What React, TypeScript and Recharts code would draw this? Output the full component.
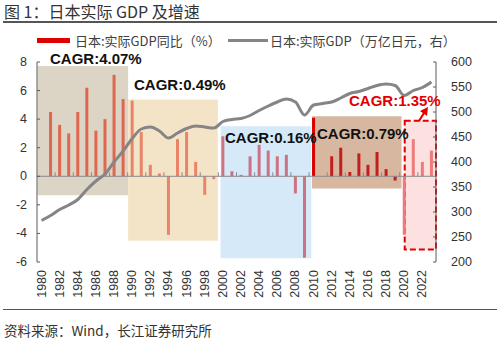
import React from "react";
import {
  ComposedChart,
  Bar,
  Line,
  XAxis,
  YAxis,
  Cell,
  ReferenceArea,
  ReferenceLine,
} from "recharts";

// ---------- data ----------
const years = [
  "1980", "1981", "1982", "1983", "1984", "1985", "1986", "1987", "1988", "1989",
  "1990", "1991", "1992", "1993", "1994", "1995", "1996", "1997", "1998", "1999",
  "2000", "2001", "2002", "2003", "2004", "2005", "2006", "2007", "2008", "2009",
  "2010", "2011", "2012", "2013", "2014", "2015", "2016", "2017", "2018", "2019",
  "2020", "2021", "2022", "2023",
];

// 日本:实际GDP同比（%）
const growth: (number | null)[] = [
  null, 4.5, 3.6, 3.0, 4.5, 6.2, 3.2, 4.0, 7.1, 5.4,
  5.3, 3.1, 0.8, 0.2, -4.1, 2.6, 3.1, 1.0, -1.3, -0.2,
  2.8, 0.35, 0.1, 1.4, 2.2, 1.8, 1.4, 1.5, -1.2, -5.7,
  4.1, 0.0, 1.4, 2.0, 0.3, 1.6, 0.8, 1.7, 0.5, -0.3,
  -4.1, 2.6, 1.0, 1.8,
];

// 日本:实际GDP（万亿日元，右）
const gdp: number[] = [
  283, 293, 305, 314, 325, 345, 362, 376, 400, 422,
  447, 466, 470, 462, 448, 458, 467, 472, 470, 468,
  481, 485, 487, 493, 503, 512, 520, 526, 520, 494,
  514, 517, 520, 528, 537, 541, 547, 553, 556, 553,
  533, 543, 549, 560,
];

const leftTicks = [-6, -4, -2, 0, 2, 4, 6, 8];
const rightTicks = [200, 250, 300, 350, 400, 450, 500, 550, 600];

// CAGR periods (start year, end year, label)
const periodStart = [1980, 1990, 2000, 2010, 2020];
const periodEnd = [1989, 1999, 2009, 2019, 2023];
const periodLabels = ["CAGR:4.07%", "CAGR:0.49%", "CAGR:0.16%", "CAGR:0.79%", "CAGR:1.35%"];

// ---------- styling ----------
const boxFill = ["#dcd5c6", "#f4e4c7", "#d5e9f9", "#d7b7a0", "#fde0e0"];
const barColors = ["#e0674f", "#ea8469", "#cc7283", "#c41d1d", "#ee7b7b"];
// box extents (in fractional years / left-axis units) — layout only
const boxX = [
  [1979.55, 1989.55],
  [1989.55, 1999.45],
  [1999.75, 2009.75],
  [2009.83, 2019.7],
  [2020.05, 2023.5],
];
const boxY = [
  [-1.33, 7.72],
  [-4.51, 5.38],
  [-5.73, 3.5],
  [-0.86, 4.21],
  [-5.12, 3.88],
];
const labelPos = [
  { left: 50, top: 59, color: "#111" },
  { left: 134, top: 85, color: "#111" },
  { left: 225, top: 137.5, color: "#111" },
  { left: 317, top: 133.5, color: "#111" },
  { left: 349, top: 101, color: "#e00000" },
];

const data = years.map((y, i) => ({
  year: y,
  growth: growth[i],
  gdp: gdp[i],
}));

const periodOf = (y: number) => {
  for (let k = 0; k < periodStart.length; k++) {
    if (y >= periodStart[k] && y <= periodEnd[k]) return k;
  }
  return 0;
};

const FONT = '"Liberation Sans", Arial, "Noto Sans CJK SC", sans-serif';
const CJK = '"Noto Sans CJK SC", "Liberation Sans", sans-serif';
const AXIS_COLOR = "#5a5a5a";
const TEXT_COLOR = "#333";

const LeftTick = (props: any) => {
  const { x, y, payload } = props;
  const ax = x + 10;
  return (
    <g>
      <line x1={ax} x2={ax + 3} y1={y} y2={y} stroke={AXIS_COLOR} strokeWidth={1} />
      <text x={x} y={y} textAnchor="end" dominantBaseline="central" fontSize={12.5} fontFamily={FONT} fill={TEXT_COLOR}>
        {payload.value}
      </text>
    </g>
  );
};

const RightTick = (props: any) => {
  const { x, y, payload } = props;
  const ax = x - 15;
  return (
    <g>
      <line x1={ax - 3} x2={ax} y1={y} y2={y} stroke={AXIS_COLOR} strokeWidth={1} />
      <text x={x} y={y} textAnchor="start" dominantBaseline="central" fontSize={12.5} fontFamily={FONT} fill={TEXT_COLOR}>
        {payload.value}
      </text>
    </g>
  );
};

const XTick = (props: any) => {
  const { x, y, payload } = props;
  return (
    <text
      x={x}
      y={y}
      transform={`rotate(-90 ${x} ${y})`}
      textAnchor="end"
      dominantBaseline="central"
      fontSize={12.5}
      fontFamily={FONT}
      fill={TEXT_COLOR}
    >
      {payload.value}
    </text>
  );
};

const zeroTickYears = years.map(Number).filter((y) => y % 2 === 0 && y > 1980);

export default function App() {
  return (
    <div
      style={{
        position: "absolute",
        left: 0,
        top: 0,
        width: 500,
        height: 338,
        background: "#fff",
        overflow: "hidden",
      }}
    >
      {/* title */}
      <div
        style={{
          position: "absolute",
          left: 4,
          top: 2,
          fontSize: 16,
          lineHeight: "18px",
          fontFamily: CJK,
          color: "#333",
          whiteSpace: "nowrap",
        }}
      >
        图 1：日本实际 GDP 及增速
      </div>
      <div style={{ position: "absolute", left: 3, top: 21, width: 494, height: 1.5, background: "#555" }} />

      <ComposedChart
        width={500}
        height={338}
        data={data}
        margin={{ top: 62, right: 0, bottom: 0, left: 0 }}
        style={{ position: "absolute", left: 0, top: 0 }}
      >
        <XAxis
          xAxisId="cat"
          dataKey="year"
          type="category"
          interval={1}
          axisLine={false}
          tickLine={false}
          tickSize={0}
          tickMargin={8}
          height={76}
          tick={<XTick />}
        />
        <XAxis xAxisId="num" type="number" dataKey="yearNum" domain={[1979.5, 2023.5]} allowDataOverflow hide />
        <YAxis
          yAxisId="left"
          orientation="left"
          domain={[-6, 8]}
          ticks={leftTicks}
          interval={0}
          width={37}
          axisLine={{ stroke: AXIS_COLOR, strokeWidth: 1 }}
          tickLine={false}
          tickSize={0}
          tickMargin={10}
          tick={<LeftTick />}
        />
        <YAxis
          yAxisId="right"
          orientation="right"
          domain={[200, 600]}
          ticks={rightTicks}
          interval={0}
          width={64}
          axisLine={{ stroke: AXIS_COLOR, strokeWidth: 1 }}
          tickLine={false}
          tickSize={0}
          tickMargin={15}
          tick={<RightTick />}
        />

        {periodStart.map((_, k) => (
          <ReferenceArea
            key={"box" + k}
            xAxisId="num"
            yAxisId="left"
            x1={boxX[k][0]}
            x2={boxX[k][1]}
            y1={boxY[k][0]}
            y2={boxY[k][1]}
            fill={boxFill[k]}
            fillOpacity={1}
            stroke={k === 4 ? "#e00000" : "none"}
            strokeWidth={k === 4 ? 2 : 0}
            strokeDasharray={k === 4 ? "6 3" : undefined}
            ifOverflow="visible"
          />
        ))}

        <ReferenceLine xAxisId="cat" yAxisId="left" y={0} stroke="#8a8a8a" strokeWidth={1} />
        {zeroTickYears.map((y) => (
          <ReferenceLine
            key={"zt" + y}
            xAxisId="num"
            yAxisId="left"
            segment={[
              { x: y - 0.5, y: 0 },
              { x: y - 0.5, y: 0.28 },
            ]}
            stroke="#8a8a8a"
            strokeWidth={1}
          />
        ))}

        <Bar xAxisId="cat" yAxisId="left" dataKey="growth" barSize={3} isAnimationActive={false}>
          {data.map((d, i) => {
            const yr = Number(d.year);
            const k = periodOf(yr);
            const c = yr === 2010 ? "#d90000" : barColors[k];
            return <Cell key={"c" + i} fill={c} />;
          })}
        </Bar>
        <Line
          xAxisId="cat"
          yAxisId="right"
          type="monotone"
          dataKey="gdp"
          stroke="#858585"
          strokeWidth={3}
          dot={false}
          activeDot={false}
          isAnimationActive={false}
        />
      </ComposedChart>

      {/* CAGR labels */}
      {periodLabels.map((t, k) => (
        <div
          key={"lab" + k}
          style={{
            position: "absolute",
            left: labelPos[k].left,
            top: labelPos[k].top - 9,
            height: 18,
            lineHeight: "18px",
            fontSize: 15,
            fontWeight: "bold",
            fontFamily: FONT,
            color: labelPos[k].color,
            whiteSpace: "nowrap",
          }}
        >
          {t}
        </div>
      ))}

      {/* red arrow */}
      <svg style={{ position: "absolute", left: 0, top: 0 }} width={500} height={338}>
        <line x1={419} y1={121} x2={424} y2={113} stroke="#e00000" strokeWidth={2} />
        <polygon points="428,107 420,111 427,116" fill="#e00000" />
      </svg>

      {/* legend */}
      <div style={{ position: "absolute", left: 37, top: 38, width: 33, height: 5, background: "#e00000" }} />
      <div
        style={{
          position: "absolute",
          left: 75,
          top: 32,
          lineHeight: "18px",
          fontSize: 13,
          fontFamily: CJK,
          color: "#404040",
          whiteSpace: "nowrap",
        }}
      >
        日本:实际GDP同比（%）
      </div>
      <div style={{ position: "absolute", left: 228, top: 39, width: 40, height: 3, background: "#858585" }} />
      <div
        style={{
          position: "absolute",
          left: 270,
          top: 32,
          lineHeight: "18px",
          fontSize: 13,
          fontFamily: CJK,
          color: "#404040",
          whiteSpace: "nowrap",
        }}
      >
        日本:实际GDP（万亿日元，右）
      </div>

      {/* footer */}
      <div style={{ position: "absolute", left: 3, top: 308.5, width: 494, height: 1.5, background: "#555" }} />
      <div
        style={{
          position: "absolute",
          left: 4,
          top: 321.5,
          height: 16,
          lineHeight: "16px",
          fontSize: 13.5,
          fontFamily: CJK,
          color: "#333",
          whiteSpace: "nowrap",
        }}
      >
        资料来源：Wind，长江证券研究所
      </div>
    </div>
  );
}
